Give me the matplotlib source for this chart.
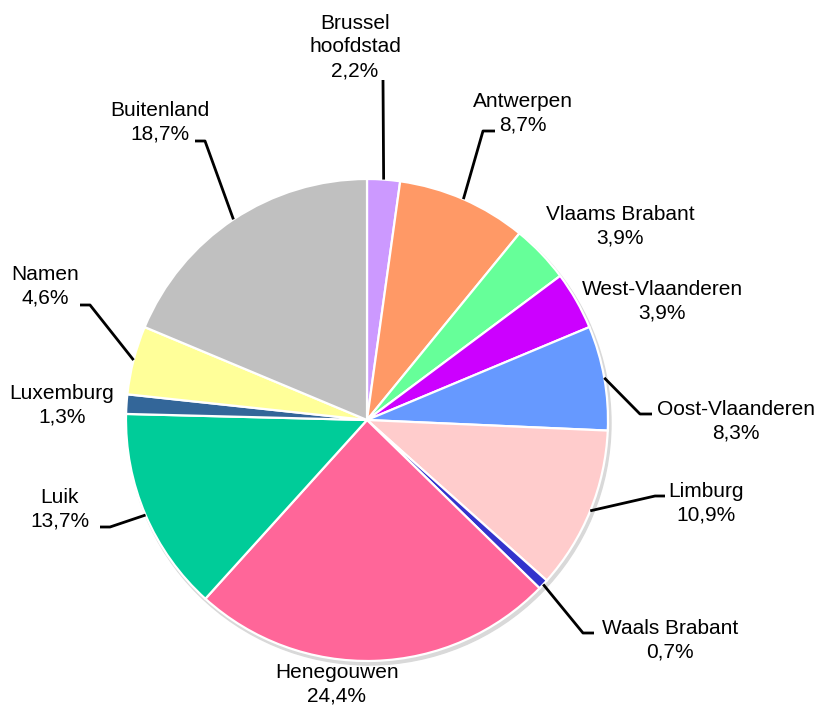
import numpy as np
import matplotlib.pyplot as plt
from matplotlib.patches import Circle

plt.rcParams['font.family'] = ['Liberation Sans', 'DejaVu Sans']

# data, clockwise from 12 o'clock
regions = ['Brussel\nhoofdstad', 'Antwerpen', 'Vlaams Brabant', 'West-Vlaanderen',
           'Oost-Vlaanderen', 'Limburg', 'Waals Brabant', 'Henegouwen', 'Luik',
           'Luxemburg', 'Namen', 'Buitenland']
# printed percentages
pct_labels = ['2,2%', '8,7%', '3,9%', '3,9%', '8,3%', '10,9%', '0,7%', '24,4%',
              '13,7%', '1,3%', '4,6%', '18,7%']
# wedge sizes as drawn (Oost-Vlaanderen wedge is ~7% in the picture)
shares = [2.2, 8.7, 3.9, 3.9, 7.0, 10.9, 0.7, 24.4, 13.7, 1.3, 4.6, 18.7]
colors = ['#CC99FF', '#FF9966', '#66FF99', '#CC00FF', '#6699FF', '#FFCCCC',
          '#3333CC', '#FF6699', '#00CC99', '#336699', '#FFFF99', '#C0C0C0']

# label layout in pixels (x centre, y centre of text block), leader elbow and tail
label_pos = [(355, 47), (523, 113), (620, 226), (662, 301), (736, 421), (706, 503),
             (670, 640), (337, 684), (60, 509), (62, 405), (45, 286), (160, 122)]
elbows = [(383, 80), (483, 131), None, None, (640, 414), (655, 496),
          (583, 633), None, (110, 527), None, (90, 305), (205, 141)]
tails = [None, (495, 131), None, None, (652, 414), (665, 496),
         (594, 633), None, (100, 527), None, (80, 305), (195, 141)]

W, H = 820, 706
cx, cy, R = 367, 420, 241

fig = plt.figure(figsize=(W / 100, H / 100), dpi=100)
ax = fig.add_axes([0, 0, 1, 1])

def py(y):
    return H - y

# soft shadow
ax.add_patch(Circle((cx + 2, py(cy) - 3), R + 1, color='#d9d9d9', zorder=0))

wedges, _ = ax.pie(shares, colors=colors, startangle=90, counterclock=False,
                   center=(cx, py(cy)), radius=R, frame=True, normalize=True,
                   wedgeprops=dict(edgecolor='white', linewidth=1.6))
ax.set_xlim(0, W)
ax.set_ylim(0, H)
ax.set_aspect('equal')
ax.axis('off')

for w, name, pct, pos, el, tl in zip(wedges, regions, pct_labels, label_pos, elbows, tails):
    ax.text(pos[0], py(pos[1]), f"{name}\n{pct}", ha='center', va='center', fontsize=15,
            linespacing=1.32, color='black')
    if el is not None:
        ang = np.deg2rad((w.theta1 + w.theta2) / 2)
        xs = [cx + R * np.cos(ang), el[0]]
        ys = [py(cy) + R * np.sin(ang), py(el[1])]
        if tl is not None:
            xs.append(tl[0])
            ys.append(py(tl[1]))
        ax.plot(xs, ys, color='black', lw=2, solid_capstyle='butt', zorder=5)

fig.savefig('out.png', dpi=100, facecolor='white')
